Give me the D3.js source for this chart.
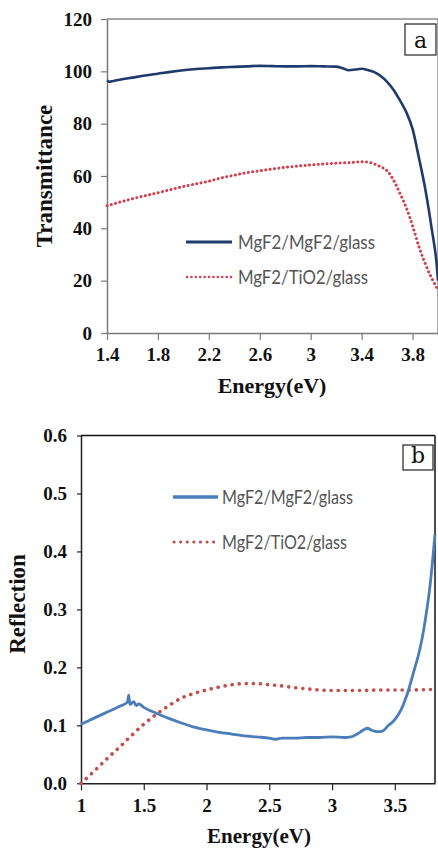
<!DOCTYPE html>
<html><head><meta charset="utf-8">
<script src="https://cdn.jsdelivr.net/npm/d3@7"></script>
<style>body{margin:0;background:#fff}svg{display:block}</style>
</head><body>
<script>
// ---- Panel a : Transmittance ----
const aEnergy1 = [1.40,1.42,1.45,1.50,1.60,1.70,1.80,1.90,2.00,2.10,2.20,2.30,2.40,2.50,2.60,2.70,2.80,2.90,3.00,3.10,3.20,3.25,3.30,3.35,3.40,3.45,3.50,3.55,3.60,3.65,3.70,3.75,3.80,3.85,3.90,3.95,3.99,4.00];
const aMgF2 = [96.5,96.0,96.3,96.8,97.6,98.4,99.1,99.8,100.4,100.9,101.2,101.5,101.7,101.9,102.1,102.0,101.9,101.9,102.0,101.9,101.8,101.2,100.4,100.7,101.0,100.5,99.7,98.2,96.0,93.0,89.0,84.5,78.0,67.0,55.0,40.0,26.0,20.0];
const aEnergy2 = [1.40,1.50,1.60,1.70,1.80,1.90,2.00,2.10,2.20,2.30,2.40,2.50,2.60,2.70,2.80,2.90,3.00,3.10,3.20,3.30,3.40,3.45,3.50,3.55,3.60,3.65,3.70,3.75,3.80,3.85,3.90,3.95,4.00];
const aTiO2 = [48.6,50.0,51.3,52.5,53.6,54.8,56.0,57.0,58.0,59.3,60.3,61.3,62.0,62.7,63.3,63.8,64.2,64.6,64.9,65.1,65.4,65.3,64.6,63.5,62.0,58.5,53.5,48.0,41.0,33.0,26.5,21.0,16.5];
const aXTicks = [1.4,1.8,2.2,2.6,3,3.4,3.8];
const aXTickLabels = ["1.4","1.8","2.2","2.6","3","3.4","3.8"];
const aYTicks = [0,20,40,60,80,100,120];

// ---- Panel b : Reflection ----
const bEnergy1 = [1.00,1.10,1.20,1.30,1.37,1.38,1.39,1.42,1.44,1.46,1.50,1.60,1.70,1.80,1.90,2.00,2.10,2.20,2.30,2.40,2.50,2.55,2.60,2.70,2.80,2.90,3.00,3.10,3.15,3.20,3.25,3.28,3.32,3.36,3.40,3.45,3.50,3.55,3.60,3.65,3.70,3.725,3.75,3.78,3.80,3.82];
const bMgF2 = [0.102,0.112,0.122,0.132,0.140,0.152,0.136,0.141,0.134,0.137,0.131,0.121,0.112,0.104,0.097,0.092,0.088,0.085,0.082,0.080,0.078,0.076,0.078,0.078,0.079,0.079,0.080,0.079,0.080,0.085,0.092,0.095,0.091,0.089,0.090,0.100,0.110,0.127,0.155,0.192,0.232,0.259,0.292,0.340,0.382,0.430];
const bEnergy2 = [1.00,1.10,1.20,1.30,1.40,1.50,1.60,1.70,1.80,1.90,2.00,2.10,2.20,2.30,2.40,2.50,2.60,2.70,2.80,2.90,3.00,3.20,3.40,3.60,3.82];
const bTiO2 = [0.000,0.020,0.041,0.061,0.082,0.102,0.119,0.134,0.147,0.155,0.161,0.166,0.170,0.172,0.172,0.170,0.168,0.165,0.163,0.161,0.160,0.160,0.161,0.161,0.162];
const bXTicks = [1,1.5,2,2.5,3,3.5];
const bXTickLabels = ["1","1.5","2","2.5","3","3.5"];
const bYTicks = [0,0.1,0.2,0.3,0.4,0.5,0.6];

const seriesNames = ["MgF2/MgF2/glass","MgF2/TiO2/glass"];

const svg = d3.select("body").append("svg").attr("width",438).attr("height",853);
const serif = "'Liberation Serif','Times New Roman',serif";
const sans = "Lato,'Open Sans','Liberation Sans',sans-serif";

function panel(cfg){
  const g = svg.append("g");
  const x = d3.scaleLinear().domain(cfg.xDomain).range([cfg.left,cfg.right]);
  const y = d3.scaleLinear().domain(cfg.yDomain).range([cfg.bottom,cfg.top]);
  g.append("line").attr("x1",cfg.left).attr("x2",cfg.right).attr("y1",cfg.top).attr("y2",cfg.top).attr("stroke",cfg.frame).attr("stroke-width",1.5);
  g.append("line").attr("x1",cfg.right).attr("x2",cfg.right).attr("y1",cfg.top).attr("y2",cfg.bottom).attr("stroke",cfg.frame).attr("stroke-width",1.5);
  const xa = g.append("g").attr("transform",`translate(0,${cfg.bottom})`)
    .call(d3.axisBottom(x).tickValues(cfg.xTicks).tickFormat((d,i)=>cfg.xTickLabels[i]).tickSize(7).tickPadding(8).tickSizeOuter(0));
  const ya = g.append("g").attr("transform",`translate(${cfg.left},0)`)
    .call(d3.axisLeft(y).tickValues(cfg.yTicks).tickFormat(cfg.yFmt).tickSize(cfg.yTickSize).tickPadding(cfg.yPad).tickSizeOuter(0));
  [xa,ya].forEach(a=>{
    a.select(".domain").attr("stroke",cfg.axis).attr("stroke-width",1.5);
    a.selectAll(".tick line").attr("stroke",cfg.axis).attr("stroke-width",1.2);
    a.selectAll("text").attr("font-family",serif).attr("font-weight","bold").attr("font-size",cfg.tickFont).attr("fill","#111");
  });
  const line = d3.line().x(d=>x(d[0])).y(d=>y(d[1])).curve(d3.curveMonotoneX);
  g.append("path").datum(cfg.x2.map((v,i)=>[v,cfg.y2[i]])).attr("d",line).attr("fill","none")
    .attr("stroke",cfg.c2).attr("stroke-width",cfg.dotW).attr("stroke-linecap","round").attr("stroke-dasharray",`0.1,${cfg.dotGap}`);
  g.append("path").datum(cfg.x1.map((v,i)=>[v,cfg.y1[i]])).attr("d",line).attr("fill","none")
    .attr("stroke",cfg.c1).attr("stroke-width",cfg.lineW).attr("stroke-linejoin","round");
  const L = cfg.legend;
  g.append("line").attr("x1",L.x0).attr("x2",L.x1).attr("y1",L.y1).attr("y2",L.y1).attr("stroke",cfg.c1).attr("stroke-width",cfg.lineW+0.5);
  g.append("line").attr("x1",L.x0+1).attr("x2",L.x1).attr("y1",L.y2).attr("y2",L.y2).attr("stroke",cfg.c2).attr("stroke-width",cfg.dotW-0.5)
    .attr("stroke-linecap","round").attr("stroke-dasharray",`0.1,${L.gap}`);
  [[L.y1,L.w1],[L.y2,L.w2]].forEach(([yy,w],i)=>{
    g.append("text").attr("x",L.tx).attr("y",yy+7).text(seriesNames[i]).attr("font-family",sans).attr("font-size",L.fs)
      .attr("fill","#555").attr("textLength",w).attr("lengthAdjust","spacingAndGlyphs");
  });
  const B = cfg.box;
  g.append("rect").attr("x",B.x).attr("y",B.y).attr("width",B.w).attr("height",B.h).attr("fill","#fff").attr("stroke","#222").attr("stroke-width",1.2);
  g.append("text").attr("x",B.x+B.w/2).attr("y",B.y+B.h-7).attr("text-anchor","middle").text(B.label)
    .attr("font-family","'DejaVu Serif',serif").attr("font-size",B.fs).attr("fill","#111");
  g.append("text").attr("x",cfg.xt[0]).attr("y",cfg.xt[1]).attr("text-anchor","middle").text("Energy(eV)")
    .attr("font-family",serif).attr("font-weight","bold").attr("font-size",cfg.xtFs).attr("fill","#111");
  g.append("text").attr("transform",`translate(${cfg.yt[0]},${cfg.yt[1]}) rotate(-90)`).attr("text-anchor","middle").text(cfg.yTitle)
    .attr("font-family",serif).attr("font-weight","bold").attr("font-size",cfg.ytFs).attr("fill","#111");
}

panel({
  xDomain:[1.4,4.0], yDomain:[0,120], left:107, right:438, top:19, bottom:333,
  frame:"#8a8a8a", axis:"#7a7a7a",
  xTicks:aXTicks, xTickLabels:aXTickLabels, yTicks:aYTicks, yFmt:d3.format("d"),
  yTickSize:6, yPad:9, tickFont:19,
  x1:aEnergy1, y1:aMgF2, x2:aEnergy2, y2:aTiO2,
  c1:"#1f3b6b", c2:"#d0404f", lineW:2.6, dotW:3, dotGap:4.3,
  legend:{x0:186,x1:232,y1:242,y2:277,tx:238,w1:137,w2:130,fs:20,gap:4.3},
  box:{x:405,y:24,w:31,h:31,label:"a",fs:22},
  xt:[272,393], xtFs:22, yt:[52,176], ytFs:23, yTitle:"Transmittance"
});

panel({
  xDomain:[1,3.82], yDomain:[0,0.6], left:81, right:435, top:435.5, bottom:783.3,
  frame:"#111", axis:"#222",
  xTicks:bXTicks, xTickLabels:bXTickLabels, yTicks:bYTicks, yFmt:d3.format(".1f"),
  yTickSize:4, yPad:10, tickFont:19,
  x1:bEnergy1, y1:bMgF2, x2:bEnergy2, y2:bTiO2,
  c1:"#4a7ebb", c2:"#c0504d", lineW:2.8, dotW:3.6, dotGap:7,
  legend:{x0:173,x1:218,y1:497,y2:542,tx:222,w1:131,w2:125,fs:20,gap:6.5},
  box:{x:403,y:445,w:30,h:25,label:"b",fs:22},
  xt:[259,843], xtFs:21, yt:[25,604], ytFs:23, yTitle:"Reflection"
});
</script>
</body></html>
